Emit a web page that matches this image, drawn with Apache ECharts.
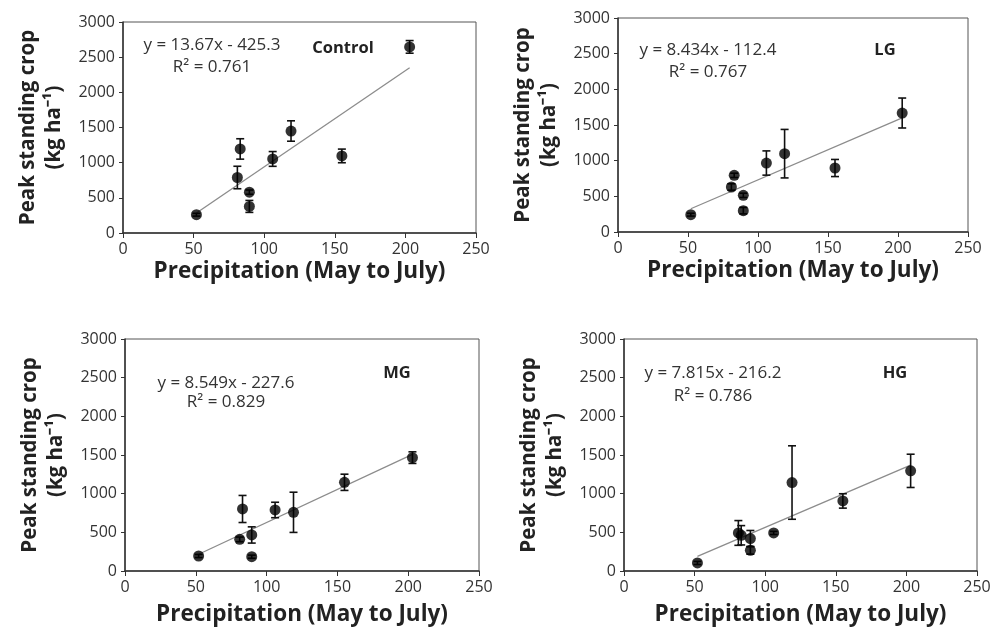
<!DOCTYPE html>
<html>
<head>
<meta charset="utf-8">
<script src="https://cdn.jsdelivr.net/npm/echarts@6/dist/echarts.min.js"></script>
<style>
  html, body { margin: 0; padding: 0; background: #fff; }
  #chart { width: 1000px; height: 636px; }
</style>
</head>
<body>
<div id="chart"></div>
<script>
// precipitation May-July (same years in every panel)
var precip = [52, 81, 83, 89.5, 89.5, 106, 119, 155, 203];

// peak standing crop and error bars for each grazing treatment
var controlY = [260, 789, 1195, 581, 378, 1053, 1450, 1096, 2646];
var controlErr = [20, 160, 145, 30, 85, 105, 145, 97, 90];
var lgY = [243, 631, 794, 514, 299, 967, 1098, 897, 1668];
var lgErr = [20, 45, 30, 30, 45, 170, 340, 120, 210];
var mgY = [194, 409, 802, 466, 185, 789, 759, 1147, 1466];
var mgErr = [20, 30, 175, 105, 20, 100, 260, 105, 75];
var hgY = [104, 492, 462, 419, 268, 492, 1144, 906, 1295];
var hgErr = [20, 160, 125, 105, 50, 20, 475, 93, 215];

var panelNames = ['Control', 'LG', 'MG', 'HG'];
var slopes = [13.67, 8.434, 8.549, 7.815];
var intercepts = [-425.3, -112.4, -227.6, -216.2];
var r2 = ['0.761', '0.767', '0.829', '0.786'];

var xTicks = [0, 250, 50];   // min, max, interval
var yTicks = [0, 3000, 500];

var allY = [controlY, lgY, mgY, hgY];
var allErr = [controlErr, lgErr, mgErr, hgErr];

// plot boxes
var grids = [
    { left: 123, top: 22, width: 353, height: 211 },
    { left: 618, top: 18, width: 350, height: 214 },
    { left: 125, top: 339, width: 354, height: 232 },
    { left: 624, top: 339, width: 353, height: 232 }
];
// text centres: [eqX, eqY, r2Y, nameX, nameY]
var notes = [
    [212, 45, 67, 343, 48],
    [708, 50, 72, 885, 50],
    [226, 383, 402, 397, 373],
    [713, 373, 396, 895, 373]
];

var font = 'Open Sans';
var textColor = '#222';

var option = {
    backgroundColor: '#fff',
    animation: false,
    grid: [],
    xAxis: [],
    yAxis: [],
    series: [],
    graphic: []
};

for (var i = 0; i < 4; i++) {
    var g = grids[i];
    option.grid.push({
        left: g.left, top: g.top, width: g.width, height: g.height,
        show: true, borderColor: '#555', borderWidth: 1, backgroundColor: 'transparent'
    });
    option.xAxis.push({
        gridIndex: i, type: 'value',
        min: xTicks[0], max: xTicks[1], interval: xTicks[2],
        name: 'Precipitation (May to July)',
        nameLocation: 'middle',
        nameGap: i < 2 ? 27 : 32,
        nameTextStyle: { fontFamily: font, fontSize: 22.5, fontWeight: 'bold', color: textColor },
        axisLine: { lineStyle: { color: '#333', width: 1.5 } },
        axisTick: { show: true, length: 5, lineStyle: { color: '#333' } },
        axisLabel: { fontFamily: font, fontSize: 16, color: '#333', margin: 8 },
        splitLine: { show: false }
    });
    option.yAxis.push({
        gridIndex: i, type: 'value',
        min: yTicks[0], max: yTicks[1], interval: yTicks[2],
        name: 'Peak standing crop\n(kg ha\u207b\u00b9)',
        nameLocation: 'middle',
        nameRotate: 90,
        nameGap: 56,
        nameTextStyle: { fontFamily: font, fontSize: 20.5, fontWeight: 'bold', color: textColor, lineHeight: 26 },
        axisLine: { show: true, lineStyle: { color: '#333', width: 1.5 } },
        axisTick: { show: true, length: 4, lineStyle: { color: '#333' } },
        axisLabel: {
            fontFamily: font, fontSize: 16, color: '#333', margin: 8,
            formatter: function (v) { return String(v); }
        },
        splitLine: { show: false }
    });

    var pts = [];
    var bars = [];
    for (var k = 0; k < precip.length; k++) {
        pts.push([precip[k], allY[i][k]]);
        bars.push([precip[k], allY[i][k], allErr[i][k]]);
    }
    var x0 = precip[0], x1 = precip[precip.length - 1];

    // trend line
    option.series.push({
        type: 'line', xAxisIndex: i, yAxisIndex: i,
        data: [[x0, slopes[i] * x0 + intercepts[i]], [x1, slopes[i] * x1 + intercepts[i]]],
        symbol: 'none',
        lineStyle: { color: '#8c8c8c', width: 1.3 },
        z: 1
    });
    // error bars
    option.series.push({
        type: 'custom', xAxisIndex: i, yAxisIndex: i,
        data: bars,
        encode: { x: 0, y: 1 },
        z: 2,
        renderItem: function (params, api) {
            var x = api.value(0), y = api.value(1), e = api.value(2);
            var top = api.coord([x, y + e]);
            var bot = api.coord([x, y - e]);
            var w = 4;
            var st = { stroke: '#111', lineWidth: 1.6 };
            return {
                type: 'group',
                children: [
                    { type: 'line', shape: { x1: top[0], y1: top[1], x2: bot[0], y2: bot[1] }, style: st },
                    { type: 'line', shape: { x1: top[0] - w, y1: top[1], x2: top[0] + w, y2: top[1] }, style: st },
                    { type: 'line', shape: { x1: bot[0] - w, y1: bot[1], x2: bot[0] + w, y2: bot[1] }, style: st }
                ]
            };
        }
    });
    // points
    option.series.push({
        type: 'scatter', xAxisIndex: i, yAxisIndex: i,
        data: pts,
        symbol: 'circle', symbolSize: 11,
        itemStyle: { color: '#000' },
        z: 3
    });

    var n = notes[i];
    var sign = intercepts[i] < 0 ? '- ' : '+ ';
    option.graphic.push({
        type: 'text', x: n[0], y: n[1], z: 10,
        style: {
            text: 'y = ' + slopes[i] + 'x ' + sign + Math.abs(intercepts[i]),
            font: '17px "' + font + '"', fill: '#333', align: 'center', verticalAlign: 'middle'
        }
    });
    option.graphic.push({
        type: 'text', x: n[0], y: n[2], z: 10,
        style: {
            text: 'R\u00b2 = ' + r2[i],
            font: '17px "' + font + '"', fill: '#333', align: 'center', verticalAlign: 'middle'
        }
    });
    option.graphic.push({
        type: 'text', x: n[3], y: n[4], z: 10,
        style: {
            text: panelNames[i],
            font: 'bold 16.5px "' + font + '"', fill: '#222', align: 'center', verticalAlign: 'middle'
        }
    });
}

var myChart = echarts.init(document.getElementById('chart'));
myChart.setOption(option);
window.onresize = function () {
    myChart.resize();
};
</script>
</body>
</html>
